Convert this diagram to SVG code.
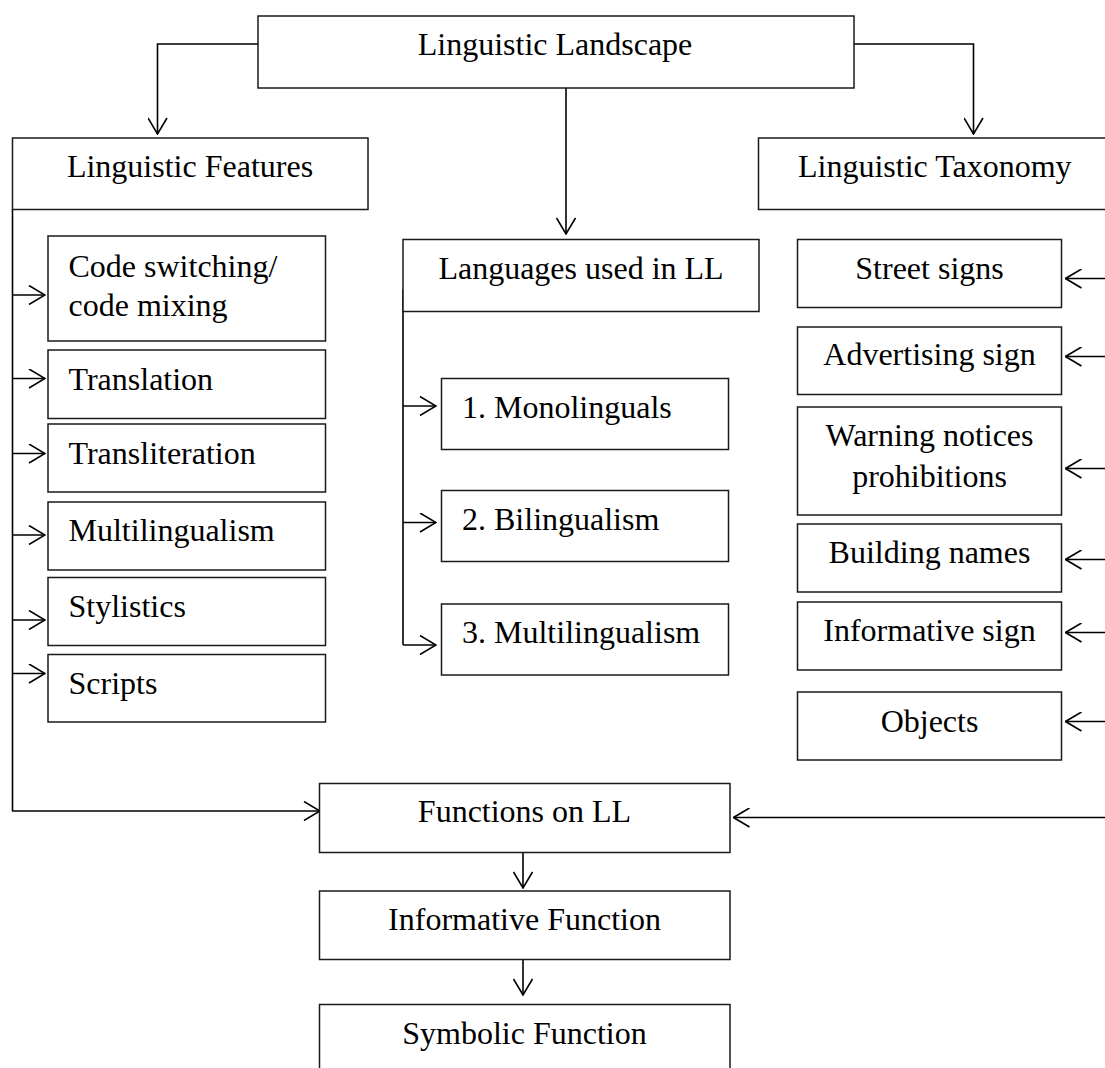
<svg xmlns="http://www.w3.org/2000/svg" width="1105" height="1068" viewBox="0 0 1105 1068">
<defs>
<marker id="ah" viewBox="0 0 18 20" refX="17" refY="10" markerUnits="userSpaceOnUse" markerWidth="18" markerHeight="20" orient="auto">
<path d="M1,0.5 L17,10 L1,19.5" fill="none" stroke="#000" stroke-width="1.6"/>
</marker>
</defs>
<style>
.box{fill:#fff;stroke:#1a1a1a;stroke-width:1.5}
.t{font-family:"Liberation Serif","Times New Roman",serif;font-size:32px;fill:#000}
.c{text-anchor:middle}
.ln{fill:none;stroke:#000;stroke-width:1.6}
.ar{fill:none;stroke:#000;stroke-width:1.6;marker-end:url(#ah)}
</style>
<rect width="1105" height="1068" fill="#fff"/>

<g id="connectors">
<polyline class="ar" points="258,44 157.5,44 157.5,134"/>
<polyline class="ar" points="854,44 973.5,44 973.5,134"/>
<line class="ar" x1="566" y1="88" x2="566" y2="234"/>
<line class="ln" x1="12.5" y1="209" x2="12.5" y2="811"/>
<line class="ar" x1="12.5" y1="295" x2="45" y2="295"/>
<line class="ar" x1="12.5" y1="378.5" x2="45" y2="378.5"/>
<line class="ar" x1="12.5" y1="453.5" x2="45" y2="453.5"/>
<line class="ar" x1="12.5" y1="535" x2="45" y2="535"/>
<line class="ar" x1="12.5" y1="620" x2="45" y2="620"/>
<line class="ar" x1="12.5" y1="673.5" x2="45" y2="673.5"/>
<line class="ar" x1="12" y1="811" x2="320" y2="811"/>
<line class="ln" x1="403" y1="289" x2="403" y2="645"/>
<line class="ar" x1="403" y1="406" x2="436" y2="406"/>
<line class="ar" x1="403" y1="522.5" x2="436" y2="522.5"/>
<line class="ar" x1="403" y1="645" x2="436" y2="645"/>
<line class="ar" x1="1105" y1="278.5" x2="1065.5" y2="278.5"/>
<line class="ar" x1="1105" y1="356.5" x2="1065.5" y2="356.5"/>
<line class="ar" x1="1105" y1="468.5" x2="1065.5" y2="468.5"/>
<line class="ar" x1="1105" y1="559.5" x2="1065.5" y2="559.5"/>
<line class="ar" x1="1105" y1="632.5" x2="1065.5" y2="632.5"/>
<line class="ar" x1="1105" y1="721.5" x2="1065.5" y2="721.5"/>
<line class="ar" x1="1105" y1="817.5" x2="733.5" y2="817.5"/>
<line class="ar" x1="523" y1="853" x2="523" y2="888"/>
<line class="ar" x1="523" y1="959.5" x2="523" y2="995"/>
</g>

<g id="n-landscape">
<rect class="box" x="258" y="16" width="596" height="72"/>
<text class="t c" x="555" y="54.5">Linguistic Landscape</text>
</g>
<g id="n-features">
<rect class="box" x="12.5" y="138" width="355.5" height="71.5"/>
<text class="t c" x="190" y="177">Linguistic Features</text>
</g>
<g id="n-taxonomy">
<rect class="box" x="758.5" y="138" width="360" height="71.5"/>
<text class="t" x="798" y="177">Linguistic Taxonomy</text>
</g>
<g id="n-languages">
<rect class="box" x="403" y="239.5" width="356" height="72"/>
<text class="t c" x="581" y="278.5">Languages used in LL</text>
</g>

<g id="n-codeswitching">
<rect class="box" x="48" y="236" width="277.5" height="105"/>
<text class="t" x="68.5" y="276.5">Code switching/</text>
<text class="t" x="68.5" y="316">code mixing</text>
</g>
<g id="n-translation">
<rect class="box" x="48" y="350" width="277.5" height="68.5"/>
<text class="t" x="68.5" y="389.5">Translation</text>
</g>
<g id="n-transliteration">
<rect class="box" x="48" y="424" width="277.5" height="68"/>
<text class="t" x="68.5" y="463.5">Transliteration</text>
</g>
<g id="n-multilingualism">
<rect class="box" x="48" y="502" width="277.5" height="68"/>
<text class="t" x="68.5" y="541">Multilingualism</text>
</g>
<g id="n-stylistics">
<rect class="box" x="48" y="577.5" width="277.5" height="68"/>
<text class="t" x="68.5" y="617">Stylistics</text>
</g>
<g id="n-scripts">
<rect class="box" x="48" y="654.5" width="277.5" height="67.5"/>
<text class="t" x="68.5" y="693.5">Scripts</text>
</g>

<g id="n-mono">
<rect class="box" x="441.5" y="378.5" width="287" height="71"/>
<text class="t" x="462" y="417.5">1. Monolinguals</text>
</g>
<g id="n-bi">
<rect class="box" x="441.5" y="490.5" width="287" height="71"/>
<text class="t" x="462" y="529.5">2. Bilingualism</text>
</g>
<g id="n-multi">
<rect class="box" x="441.5" y="604" width="287" height="71"/>
<text class="t" x="462" y="642.5">3. Multilingualism</text>
</g>

<g id="n-street">
<rect class="box" x="797.5" y="239.5" width="264" height="68"/>
<text class="t c" x="929.5" y="278.5">Street signs</text>
</g>
<g id="n-advertising">
<rect class="box" x="797.5" y="327" width="264" height="67.5"/>
<text class="t c" x="929.5" y="365">Advertising sign</text>
</g>
<g id="n-warning">
<rect class="box" x="797.5" y="407" width="264" height="108"/>
<text class="t c" x="929.5" y="446">Warning notices</text>
<text class="t c" x="929.5" y="487">prohibitions</text>
</g>
<g id="n-building">
<rect class="box" x="797.5" y="524" width="264" height="68"/>
<text class="t c" x="929.5" y="563">Building names</text>
</g>
<g id="n-informative-sign">
<rect class="box" x="797.5" y="602" width="264" height="68"/>
<text class="t c" x="929.5" y="641">Informative sign</text>
</g>
<g id="n-objects">
<rect class="box" x="797.5" y="692" width="264" height="68"/>
<text class="t c" x="929.5" y="732">Objects</text>
</g>

<g id="n-functions">
<rect class="box" x="319.5" y="783.5" width="410.5" height="69"/>
<text class="t c" x="524.5" y="822">Functions on LL</text>
</g>
<g id="n-informative-function">
<rect class="box" x="319.5" y="891" width="410.5" height="68.5"/>
<text class="t c" x="524.5" y="930">Informative Function</text>
</g>
<g id="n-symbolic">
<rect class="box" x="319.5" y="1004.5" width="410.5" height="80"/>
<text class="t c" x="524.5" y="1043.5">Symbolic Function</text>
</g>
</svg>
